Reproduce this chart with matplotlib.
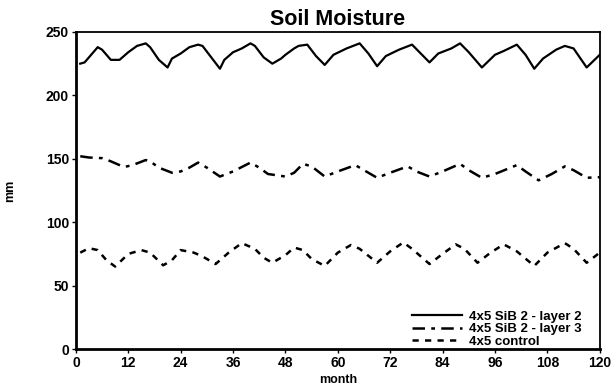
import matplotlib
matplotlib.use("Agg")
import matplotlib.pyplot as plt

plt.rcParams['font.family'] = ['Liberation Sans', 'DejaVu Sans']
plt.rcParams['font.weight'] = 'bold'

# 4x5 SiB 2 - layer 2 (month, mm)
l2_month = [1, 2, 3, 5, 6, 8, 10, 12, 14, 15, 16, 17, 19, 21, 22, 24, 26, 28, 29, 31,
            33, 34, 36, 38, 40, 41, 43, 45, 47, 48, 50, 51, 53, 55, 57, 59, 62, 65, 67,
            69, 71, 74, 77, 79, 81, 83, 86, 88, 90, 93, 96, 98, 101, 103, 105, 107, 110,
            112, 114, 117, 120]
l2_mm = [225, 226, 230, 238, 236, 228, 228, 234, 239, 240, 241, 238, 228, 222, 229, 233,
         238, 240, 239, 230, 221, 228, 234, 237, 241, 239, 230, 225, 229, 232, 237, 239,
         240, 231, 224, 232, 237, 241, 233, 223, 231, 236, 240, 233, 226, 233, 237, 241,
         234, 222, 232, 235, 240, 232, 221, 229, 236, 239, 237, 222, 232]

# 4x5 SiB 2 - layer 3
l3_month = [1, 3, 6, 8, 11, 13, 16, 17, 19, 22, 24, 26, 28, 30, 33, 36, 40, 42, 44, 48,
            50, 52, 54, 57, 60, 64, 66, 69, 72, 76, 78, 81, 84, 88, 90, 93, 96, 101, 103,
            106, 109, 112, 114, 117, 120]
l3_mm = [152, 151, 150.5, 148, 143.5, 145, 149, 148, 143, 139, 140, 143, 147, 143, 136,
         140, 147, 143, 138, 136, 139, 146, 144, 136, 140, 145, 141, 135, 139, 144, 140,
         136, 140, 146, 141, 135, 138, 145, 140, 133, 138, 144, 141, 135, 135.5]

# 4x5 control
ctl_month = [1, 3, 5, 7, 9, 12, 15, 17, 20, 22, 24, 27, 29, 32, 35, 38, 41, 43, 45, 48,
             50, 52, 54, 57, 60, 63, 65, 69, 72, 75, 77, 81, 84, 87, 89, 92, 95, 98, 101,
             105, 108, 112, 114, 117, 120]
ctl_mm = [76, 79.5, 78, 70, 65, 75, 78, 76, 66, 70, 78, 76, 73, 67, 76, 83.5, 79, 72, 68,
          74, 80, 78, 71, 65.5, 76, 82, 79, 68, 77, 84, 79, 67, 75, 82.5, 79, 68, 76, 82.5,
          77, 65.5, 76, 83.5, 79, 68, 76]

x_ticks = list(range(0, 121, 12))
y_ticks = [0, 50, 100, 150, 200, 250]

fig = plt.figure(figsize=(6.12, 3.85), dpi=100)
ax = fig.add_axes([0.124, 0.0935, 0.856, 0.8235])

ax.plot(l2_month, l2_mm, color="black", lw=1.6, solid_joinstyle="round",
        label="4x5 SiB 2 - layer 2")
ax.plot(l3_month, l3_mm, color="black", lw=1.8, dashes=(5, 2.5, 1.5, 2.5),
        label="4x5 SiB 2 - layer 3")
ax.plot(ctl_month, ctl_mm, color="black", lw=1.8, dashes=(2.5, 2.5), label="4x5 control")

ax.set_xlim(0, 120)
ax.set_ylim(0, 250)
ax.set_xticks(x_ticks)
ax.set_yticks(y_ticks)
ax.tick_params(direction="out", length=3, width=1, labelsize=10, pad=2)
for lab in ax.get_xticklabels() + ax.get_yticklabels():
    lab.set_fontweight("bold")

ax.spines["left"].set_linewidth(2)
ax.spines["bottom"].set_linewidth(2)
ax.spines["top"].set_linewidth(1.3)
ax.spines["right"].set_linewidth(1.3)

ax.set_title("Soil Moisture", fontsize=15.5, fontweight="bold", pad=5)
ax.set_xlabel("month", fontsize=9, fontweight="bold", labelpad=3)
ax.set_ylabel("mm", fontsize=9, fontweight="bold")
ax.yaxis.set_label_coords(-0.115, 0.5)

leg = ax.legend(loc="lower right", bbox_to_anchor=(0.975, -0.012), frameon=False,
                fontsize=9.5, handlelength=3.8, handletextpad=0.5, labelspacing=0.0,
                borderaxespad=0.0)
for t in leg.get_texts():
    t.set_fontweight("bold")

fig.savefig("out.png", dpi=100)
